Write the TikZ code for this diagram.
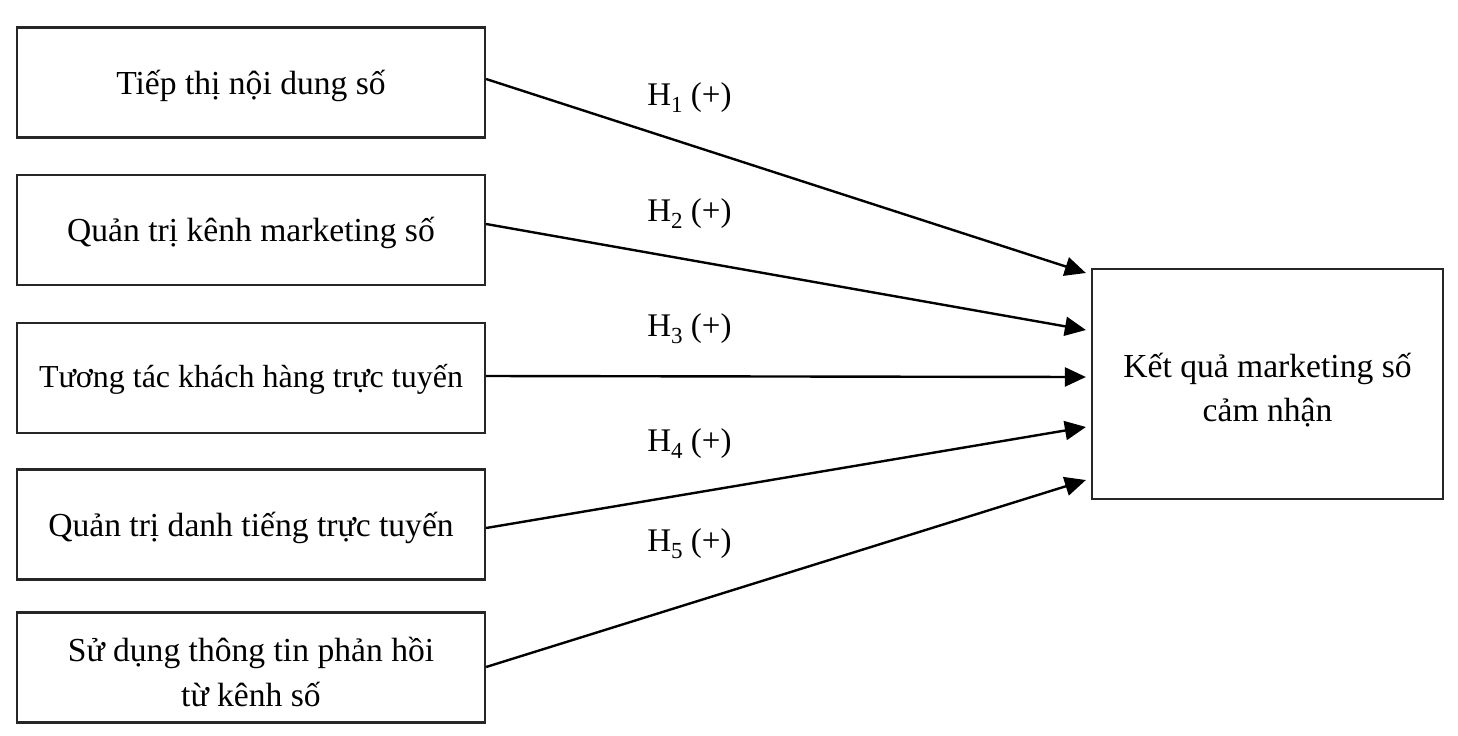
\documentclass[tikz,border=0pt]{standalone}
\usepackage{fontspec}
\setmainfont{Liberation Serif}
\usetikzlibrary{arrows.meta,calc}
\newcommand{\hsub}[1]{\raisebox{-0.45ex}{\fontsize{11.5}{12}\selectfont #1}}
\begin{document}
\begin{tikzpicture}[x=0.5pt,y=-0.5pt,
  box/.style={draw=black!85,line width=1.1pt,rectangle,inner sep=0pt},
  lbox/.style={box,minimum width=234pt,minimum height=55pt},
  rbox/.style={box,minimum width=175.5pt,minimum height=115pt},
  txt/.style={align=center,inner sep=0pt,font=\fontsize{16.8}{21.8}\selectfont},
  hyp/.style={font=\fontsize{16.5}{19}\selectfont,anchor=west,inner sep=0pt},
  arr/.style={line width=1.2pt,-{Triangle[length=10.5pt,width=9.5pt]}}]
\useasboundingbox (0,0) rectangle (1458,735);
\node[lbox] (b1) at (251,82.5) {};
\node[lbox] (b2) at (251,230) {};
\node[lbox] (b3) at (251,378) {};
\node[lbox] (b4) at (251,524.5) {};
\node[lbox] (b5) at (251,667.5) {};
\node[rbox] (r) at (1267.5,384) {};
\node[txt] (x1) at ($(b1.center)+(0,3)$) {Tiếp thị nội dung số};
\node[txt] (x2) at ($(b2.center)+(0,3)$) {Quản trị kênh marketing số};
\node[txt,font=\fontsize{16}{21}\selectfont] (x3) at ($(b3.center)+(0,1)$) {Tương tác khách hàng trực tuyến};
\node[txt] (x4) at ($(b4.center)+(0,3)$) {Quản trị danh tiếng trực tuyến};
\node[txt,font=\fontsize{16.8}{22.5}\selectfont] (x5) at ($(b5.center)+(0,4)$) {Sử dụng thông tin phản hồi\\từ kênh số};
\node[txt] (xr) at ($(r.center)+(0,6)$) {Kết quả marketing số\\cảm nhận};
\coordinate (s1) at ($(b1.east)+(0,-3.5)$);
\coordinate (s2) at ($(b2.east)+(0,-6)$);
\coordinate (s3) at ($(b3.east)+(0,-2)$);
\coordinate (s4) at ($(b4.east)+(0,3.5)$);
\coordinate (s5) at ($(b5.east)+(0,-0.5)$);
\coordinate (t1) at ($(r.west)+(-5,-111)$);
\coordinate (t2) at ($(r.west)+(-5,-54)$);
\coordinate (t3) at ($(r.west)+(-5,-7)$);
\coordinate (t4) at ($(r.west)+(-5,43)$);
\coordinate (t5) at ($(r.west)+(-5,96)$);
\draw[arr] (s1) -- (t1);
\draw[arr] (s2) -- (t2);
\draw[arr] (s3) -- (t3);
\draw[arr] (s4) -- (t4);
\draw[arr] (s5) -- (t5);
\node[hyp] (h1) at (647,98) {H\hsub{1} (+)};
\node[hyp] (h2) at (647,214) {H\hsub{2} (+)};
\node[hyp] (h3) at (647,329) {H\hsub{3} (+)};
\node[hyp] (h4) at (647,444) {H\hsub{4} (+)};
\node[hyp] (h5) at (647,544) {H\hsub{5} (+)};
\end{tikzpicture}
\end{document}
